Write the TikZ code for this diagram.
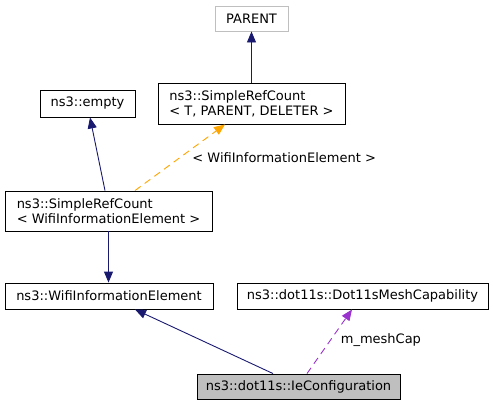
\documentclass[tikz,border=0pt]{standalone}
\usepackage{fontspec}
\setmainfont{DejaVu Sans}
\usetikzlibrary{arrows.meta}
\definecolor{navy}{HTML}{191970}
\definecolor{orchid}{HTML}{9A32CD}
\definecolor{tmplorange}{HTML}{FFA500}
\definecolor{boxgray}{HTML}{BFBFBF}
\begin{document}
\begin{tikzpicture}[x=1pt, y=-1pt,
    cls/.style={draw, rectangle, line width=0.9pt, inner sep=0pt, align=left, font=\fontsize{13}{15}\selectfont},
    inh/.style={navy, line width=0.9pt, -{Triangle[length=11pt,width=9pt]}},
    tmpl/.style={tmplorange, line width=0.9pt, dash pattern=on 7pt off 5pt, -{Triangle[length=11pt,width=9pt]}},
    usage/.style={orchid, line width=0.9pt, dash pattern=on 7pt off 5pt, -{Triangle[length=11pt,width=9pt]}},
    lbl/.style={black, font=\fontsize{13}{15}\selectfont, inner sep=0pt, anchor=west}]
        \useasboundingbox (0,0) rectangle (493,405);
        % Nodes
        \node (parent) [cls, draw=boxgray, minimum width=73pt, minimum height=25pt] at (251.5,18.5) {PARENT};
        \node (srct) [cls, minimum width=187pt, minimum height=41pt] at (251.5,103.5) {ns3::SimpleRefCount\\< T, PARENT, DELETER >};
        \node (empty) [cls, minimum width=95pt, minimum height=27pt] at (87.5,103.5) {ns3::empty};
        \node (srcw) [cls, minimum width=207pt, minimum height=40pt] at (108.5,211) {ns3::SimpleRefCount\\< WifiInformationElement >};
        \node (wie) [cls, minimum width=208pt, minimum height=26pt] at (109,296) {ns3::WifiInformationElement};
        \node (mesh) [cls, minimum width=251pt, minimum height=26pt] at (362.5,296) {ns3::dot11s::Dot11sMeshCapability};
        \node (iec) [cls, fill=boxgray, minimum width=203pt, minimum height=25pt] at (298.5,386.5) {ns3::dot11s::IeConfiguration};

        % Edges
        \draw[inh] (srct) -- (parent);
        \draw[inh] ([xshift=-3.5pt]srcw.north) -- ([xshift=2.5pt]empty.south);
        \draw[tmpl] ([xshift=26.5pt]srcw.north) -- node[lbl, pos=0.5, xshift=12pt] {< WifiInformationElement >} ([xshift=-26.5pt]srct.south);
        \draw[inh] (srcw.south) -- (srcw.south |- wie.north);
        \draw[inh] ([xshift=-25.5pt]iec.north) -- ([xshift=26pt]wie.south);
        \draw[usage] ([xshift=8.5pt]iec.north) -- node[lbl, pos=0.52, xshift=10pt] {m\_meshCap} ([xshift=-10.5pt]mesh.south);
    \end{tikzpicture}
\end{document}
